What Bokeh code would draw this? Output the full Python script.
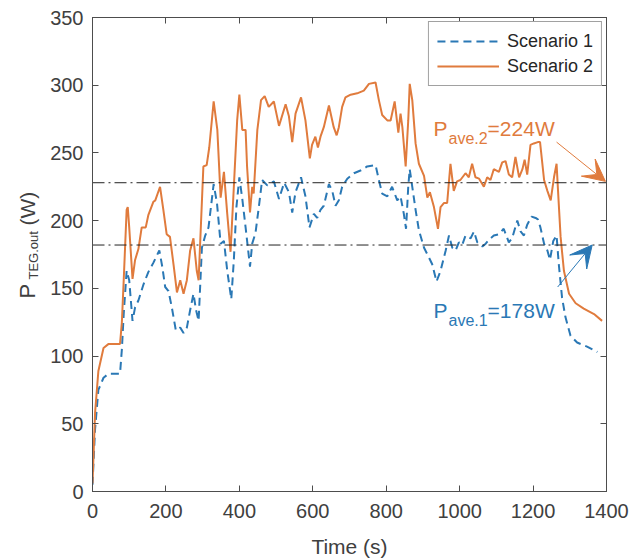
import numpy as np
from bokeh.plotting import figure
from bokeh.models import (Label, Arrow, VeeHead, LinearAxis, FixedTicker,
                          CustomJSTickFormatter, Range1d)
from bokeh.layouts import row
from bokeh.core.properties import value
from bokeh.embed import file_html
from bokeh.resources import INLINE

FONT = "Liberation Sans"
BLUE = "#2a78b5"
ORANGE = "#e07b3d"
AXIS_COLOR = "#4d4d4d"
TEXT_COLOR = "#404040"

# ---------------- data ----------------
time_s2 = [0, 7, 16, 30, 44, 75, 80, 85, 93, 96, 100, 109, 116, 125, 134, 145, 152,
           166, 171, 184, 193, 202, 211, 221, 230, 239, 248, 257, 266, 275, 284, 289,
           302, 311, 318, 330, 340, 349, 358, 367, 376, 385, 394, 400, 408, 417, 421,
           429, 435, 439, 449, 459, 469, 480, 494, 508, 526, 535, 544, 553, 568, 580,
           592, 598, 607, 614, 621, 630, 644, 657, 665, 671, 680, 689, 703, 721, 739,
           753, 771, 780, 789, 803, 812, 823, 833, 839, 844, 853, 860, 864, 871, 880,
           889, 903, 912, 919, 930, 941, 948, 957, 966, 975, 984, 993, 1002, 1016,
           1025, 1034, 1043, 1053, 1066, 1075, 1084, 1093, 1107, 1116, 1125, 1134,
           1143, 1152, 1162, 1171, 1177, 1184, 1193, 1202, 1213, 1219, 1230, 1239,
           1248, 1257, 1264, 1268, 1275, 1284, 1298, 1316, 1338, 1366, 1388]
p_s2 = [6, 58, 89, 106, 109, 109, 125, 156, 208, 210, 195, 157, 171, 179, 195, 195, 204,
        214, 215, 225, 208, 190, 188, 167, 147, 156, 146, 156, 178, 187, 163, 156,
        240, 241, 254, 288, 267, 217, 236, 205, 177, 225, 274, 293, 267, 267, 240,
        206, 225, 220, 267, 289, 292, 284, 288, 270, 286, 277, 258, 279, 291, 274,
        246, 256, 262, 254, 262, 269, 285, 269, 263, 269, 284, 291, 293, 294, 296,
        301, 302, 289, 278, 274, 274, 288, 265, 279, 269, 240, 274, 301, 289, 257,
        242, 233, 217, 221, 210, 194, 210, 213, 213, 242, 222, 229, 230, 235,
        232, 242, 232, 231, 225, 232, 230, 238, 236, 243, 244, 234,
        232, 247, 232, 238, 245, 234, 256, 257, 258, 258, 230, 222,
        215, 232, 242, 222, 188, 163, 146, 139, 135, 131, 126]

time_s1 = [0, 7, 16, 30, 44, 75, 80, 85, 93, 100, 109, 116, 125, 139, 152, 166, 182,
           190, 198, 207, 216, 227, 239, 248, 257, 266, 275, 282, 289, 298, 307, 316,
           330, 339, 349, 358, 367, 378, 385, 392, 400, 408, 417, 429, 435, 444, 453,
           462, 476, 494, 508, 522, 535, 544, 553, 568, 580, 591, 603, 612, 621, 630,
           644, 653, 662, 671, 680, 694, 712, 730, 748, 771, 780, 789, 803, 816, 830,
           839, 848, 854, 860, 864, 871, 880, 889, 903, 916, 925, 937, 948, 962, 971,
           980, 989, 998, 1007, 1016, 1030, 1039, 1048, 1062, 1071, 1080, 1093, 1107,
           1120, 1134, 1143, 1157, 1166, 1175, 1184, 1196, 1207, 1213, 1220, 1230,
           1239, 1246, 1255, 1264, 1270, 1279, 1288, 1302, 1320, 1347, 1375]
p_s1 = [5, 46, 75, 84, 87, 87, 105, 131, 163, 156, 126, 136, 141, 153, 162, 169, 178,
        166, 151, 148, 136, 119, 121, 117, 121, 134, 146, 134, 126, 180, 189, 195,
        227, 213, 183, 185, 163, 142, 171, 210, 232, 216, 195, 166, 183, 191, 210,
        230, 226, 229, 216, 228, 221, 206, 221, 232, 218, 195, 205, 202, 208, 211,
        227, 222, 211, 215, 225, 231, 235, 237, 240, 241, 230, 220, 218, 225, 215,
        218, 205, 194, 225, 238, 225, 208, 193, 180, 173, 168, 155, 163, 178, 189,
        180, 178, 184, 182, 189, 187, 192, 184, 181, 183, 186, 189, 190,
        194, 184, 187, 200, 192, 189, 197, 203, 202, 201, 195, 183,
        178, 171, 185, 189, 168, 143, 129, 115, 110, 107, 103]

series_names = ["Scenario 1", "Scenario 2"]
ave_levels = [228, 182]          # drawn dash-dot average lines (Scenario 2, Scenario 1)
ave_texts = ["=224W", "=178W"]
ave_subs = ["ave.2", "ave.1"]
x_ticks = [0, 200, 400, 600, 800, 1000, 1200, 1400]
y_ticks = [0, 50, 100, 150, 200, 250, 300, 350]
y_label_parts = ["P", "TEG.out", "(W)"]

# ---------------- y-label strip ----------------
LAB_W = 40
# frame of this strip is aligned with the main frame (screen y 17..491),
# so use an inverted range that equals screen pixels
lab = figure(width=LAB_W, height=560, x_range=Range1d(0, LAB_W), y_range=Range1d(491, 17),
             output_backend="svg", toolbar_location=None,
             x_axis_type=None, y_axis_type=None,
             min_border_left=0, min_border_right=0, min_border_top=17, min_border_bottom=69)
lab.grid.visible = False
lab.outline_line_color = None
lab.background_fill_color = "white"
lab.border_fill_color = "white"
for txt, sx, sy, fs in ((y_label_parts[0], 27, 298, "22px"),
                        (y_label_parts[1], 33, 279, "13px"),
                        (y_label_parts[2], 27, 225, "21px")):
    lab.text(x=[sx], y=[sy], text=[txt], angle=np.pi / 2,
             text_font=value(FONT), text_font_size=value(fs), text_color=TEXT_COLOR,
             text_baseline="alphabetic", text_align="left")

# ---------------- main figure ----------------
p = figure(width=638 - LAB_W, height=560, x_range=Range1d(0, 1400), y_range=Range1d(0, 350),
           output_backend="svg", toolbar_location=None,
           min_border_left=92 - LAB_W, min_border_right=32, min_border_top=17,
           min_border_bottom=69)
p.grid.visible = False
p.background_fill_color = "white"
p.border_fill_color = "white"
p.outline_line_color = AXIS_COLOR
p.outline_line_width = 1

for ax, ticks in ((p.xaxis[0], x_ticks), (p.yaxis[0], y_ticks)):
    ax.ticker = FixedTicker(ticks=ticks)
    ax.axis_line_color = AXIS_COLOR
    ax.major_tick_line_color = AXIS_COLOR
    ax.major_tick_in = 6
    ax.major_tick_out = 0
    ax.minor_tick_line_color = None
    ax.major_label_text_font = FONT
    ax.major_label_text_font_size = "20px"
    ax.major_label_text_color = TEXT_COLOR

p.xaxis.major_label_standoff = 12
p.yaxis.major_label_standoff = 9
p.xaxis.axis_label = "Time (s)"
p.xaxis.axis_label_text_font = FONT
p.xaxis.axis_label_text_font_size = "21px"
p.xaxis.axis_label_text_font_style = "normal"
p.xaxis.axis_label_text_color = TEXT_COLOR
p.xaxis.axis_label_standoff = 14

# mirrored axes (box with ticks on all sides)
for loc, ticks in (("above", x_ticks), ("right", y_ticks)):
    extra = LinearAxis(ticker=FixedTicker(ticks=ticks),
                       formatter=CustomJSTickFormatter(code="return ''"),
                       axis_line_color=AXIS_COLOR, major_tick_line_color=AXIS_COLOR,
                       major_tick_in=6, major_tick_out=0, minor_tick_line_color=None,
                       major_label_text_font_size="0px", major_label_standoff=0)
    p.add_layout(extra, loc)

# curves
r1 = p.line(time_s1, p_s1, line_color=BLUE, line_width=2, line_dash="8 5",
            legend_label=series_names[0])
r2 = p.line(time_s2, p_s2, line_color=ORANGE, line_width=2,
            legend_label=series_names[1])

# average lines
for lv in ave_levels:
    p.line([0, 1400], [lv, lv], line_color="#222222", line_width=1, line_dash="12 4 2 4")

# legend
lg = p.legend[0]
lg.location = "top_right"
lg.margin = 4
lg.padding = 8
lg.spacing = 3
lg.glyph_width = 62
lg.glyph_height = 22
lg.label_height = 22
lg.label_standoff = 8
lg.label_text_font = FONT
lg.label_text_font_size = "18px"
lg.label_text_color = "#262626"
lg.border_line_color = "#444444"
lg.border_line_width = 1
lg.background_fill_alpha = 1.0

# annotation texts
for (tx, ty, sub, txt, col) in ((929, 268, ave_subs[0], ave_texts[0], ORANGE),
                                 (929, 134, ave_subs[1], ave_texts[1], BLUE)):
    p.add_layout(Label(x=tx, y=ty, text="P", text_font=FONT, text_font_size="21px",
                       text_color=col, text_baseline="alphabetic", text_align="left"))
    p.add_layout(Label(x=tx, y=ty, x_offset=15, y_offset=-10, text=sub, text_font=FONT,
                       text_font_size="16px", text_color=col,
                       text_baseline="alphabetic", text_align="left"))
    p.add_layout(Label(x=tx, y=ty, x_offset=54, text=txt, text_font=FONT,
                       text_font_size="21px", text_color=col,
                       text_baseline="alphabetic", text_align="left"))

# arrows
p.add_layout(Arrow(x_start=1264, y_start=258, x_end=1397, y_end=229,
                   line_color=ORANGE, line_width=1,
                   end=VeeHead(size=22, fill_color=ORANGE, line_color=ORANGE)))
p.add_layout(Arrow(x_start=1267, y_start=151, x_end=1361, y_end=182,
                   line_color=BLUE, line_width=1,
                   end=VeeHead(size=22, fill_color=BLUE, line_color=BLUE)))

layout = row(lab, p, spacing=0)
open("out.html", "w").write(file_html(layout, INLINE))
